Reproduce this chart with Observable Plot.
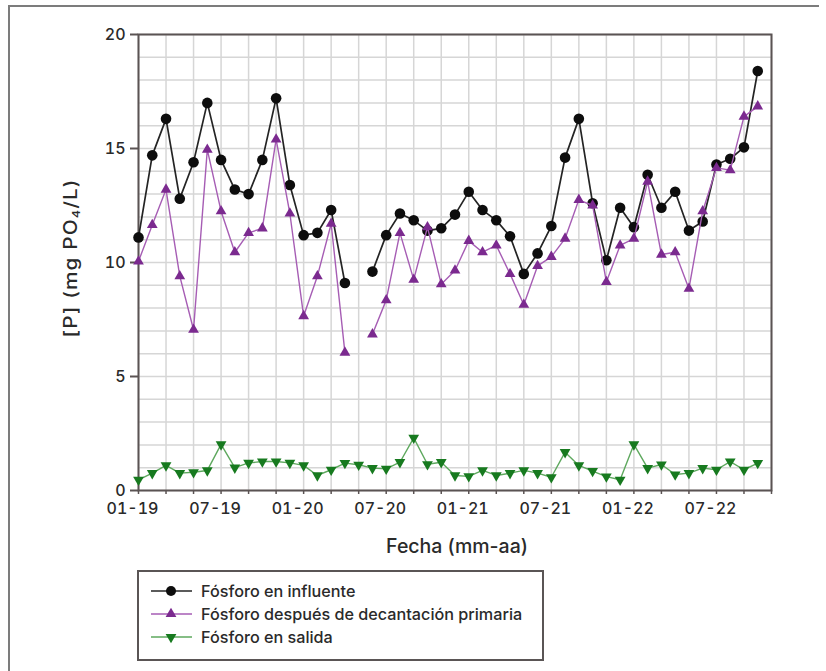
<!DOCTYPE html>
<html><head><meta charset="utf-8">
<script src="https://cdn.jsdelivr.net/npm/d3@7"></script>
<script src="https://cdn.jsdelivr.net/npm/@observablehq/plot@0.6"></script>
<style>
body{margin:0;background:#fff;font-family:Inter,"Liberation Sans",sans-serif;color:#2a2a2a;}
#wrap{position:relative;width:826px;height:671px;overflow:hidden;background:#fff;}
#outer{position:absolute;left:8px;top:5px;width:809px;height:700px;border-left:2px solid #7c7c7c;border-top:2px solid #7c7c7c;}
#chart{position:absolute;left:0;top:0;}
#ylab{position:absolute;left:71px;top:258px;transform:translate(-50%,-50%) rotate(-90deg) scaleX(1.15);white-space:nowrap;font-size:18px;font-weight:500;letter-spacing:1px;color:#2a2a2a;}
#ylab sub{font-size:11px;vertical-align:-3px;}
#xlab{position:absolute;left:457px;top:546px;transform:translate(-50%,-50%);white-space:nowrap;font-size:19.5px;font-weight:500;color:#2a2a2a;}
#legend{position:absolute;left:137px;top:570px;width:407px;height:91px;box-sizing:border-box;border:2px solid #5a5555;background:#fff;}
.row{position:absolute;left:10px;display:flex;align-items:center;font-size:16.2px;font-weight:500;color:#2a2a2a;white-space:nowrap;}
.row svg{margin-right:8px;}
</style></head>
<body>
<div id="wrap">
  <div id="outer"></div>
  <div id="chart"></div>
  <div id="ylab">[P] (mg PO<sub>4</sub>/L)</div>
  <div id="xlab">Fecha (mm-aa)</div>
  <div id="legend"></div>
</div>
<script>
const monthLabels = ["01-19","02-19","03-19","04-19","05-19","06-19","07-19","08-19","09-19","10-19","11-19","12-19",
  "01-20","02-20","03-20","04-20","05-20","06-20","07-20","08-20","09-20","10-20","11-20","12-20",
  "01-21","02-21","03-21","04-21","05-21","06-21","07-21","08-21","09-21","10-21","11-21","12-21",
  "01-22","02-22","03-22","04-22","05-22","06-22","07-22","08-22","09-22","10-22"];
const tickLabels = ["01-19","07-19","01-20","07-20","01-21","07-21","01-22","07-22"];
const yTickValues = [0,5,10,15,20];

const influente = [11.1,14.7,16.3,12.8,14.4,17.0,14.5,13.2,13.0,14.5,17.2,13.4,11.2,11.3,12.3,9.1,null,
  9.6,11.2,12.15,11.85,11.4,11.5,12.1,13.1,12.3,11.85,11.15,9.5,10.4,11.6,14.6,16.3,12.6,10.1,12.4,11.55,
  13.85,12.4,13.1,11.4,11.8,14.3,14.55,15.05,18.4];
const primaria = [10.05,11.65,13.2,9.4,7.05,14.95,12.25,10.45,11.3,11.5,15.4,12.15,7.65,9.4,11.7,6.05,null,
  6.85,8.35,11.3,9.25,11.55,9.05,9.65,10.95,10.45,10.75,9.5,8.15,9.85,10.25,11.05,12.75,12.5,9.15,10.75,11.05,
  13.55,10.35,10.45,8.85,12.25,14.15,14.05,16.4,16.85];
const salida = [0.47,0.76,1.1,0.76,0.8,0.88,2.02,1.0,1.21,1.27,1.27,1.21,1.1,0.66,0.91,1.2,1.13,0.98,0.95,1.24,
  2.31,1.15,1.24,0.66,0.62,0.88,0.66,0.76,0.88,0.76,0.58,1.68,1.1,0.85,0.61,0.47,2.02,0.98,1.14,0.70,0.76,0.98,
  0.91,1.27,0.91,1.2];
const seriesNames = ["Fósforo en influente","Fósforo después de decantación primaria","Fósforo en salida"];

const C = {
  blackLine:"#242424", blackDot:"#0d0d0d",
  purpleLine:"#a65db4", purpleDot:"#7b2a8f",
  greenLine:"#5ea85e", greenDot:"#177a1f",
  grid:"#d6d6d6", axis:"#5a5353"
};

const triangleDown = {
  draw(ctx, size) {
    const y = -Math.sqrt(size / (3 * Math.sqrt(3)));
    ctx.moveTo(0, -y * 2);
    ctx.lineTo(-Math.sqrt(3) * y, y);
    ctx.lineTo(Math.sqrt(3) * y, y);
    ctx.closePath();
  }
};

const rows = (vals) => monthLabels.map((m, i) => ({i, m, v: vals[i]}));
const dInf = rows(influente), dPri = rows(primaria), dSal = rows(salida);
const xGrid = d3.range(0, monthLabels.length + 1, 2);
const xLabelPos = tickLabels.map(l => monthLabels.indexOf(l));
const defined = d => d.v != null;

const chart = Plot.plot({
  width: 826, height: 671,
  marginLeft: 138, marginRight: 55, marginTop: 34, marginBottom: 181,
  x: {domain: [0, monthLabels.length]},
  y: {domain: [0, 20]},
  style: {fontFamily: "Inter, 'Liberation Sans', sans-serif", fontSize: "16px", fontWeight: 500, color: "#2a2a2a", background: "transparent", overflow: "visible"},
  marks: [
    Plot.gridY(d3.range(0, 21), {stroke: C.grid, strokeOpacity: 1, strokeWidth: 1.5}),
    Plot.gridX(xGrid, {stroke: C.grid, strokeOpacity: 1, strokeWidth: 1.5}),
    Plot.axisY(yTickValues, {tickSize: 8, tickPadding: 5, stroke: C.axis, strokeWidth: 2, label: null, fill: "#2a2a2a"}),
    Plot.axisX(xGrid, {tickSize: 4, tickFormat: () => "", label: null, stroke: C.axis, strokeWidth: 1.5}),
    Plot.axisX(xLabelPos, {tickSize: 0, tickPadding: 12, dx: -6, tickFormat: i => monthLabels[i], label: null, fill: "#2a2a2a"}),
    Plot.frame({stroke: C.axis, strokeWidth: 2}),
    Plot.line(dInf, {x: "i", y: "v", stroke: C.blackLine, strokeWidth: 1.7}),
    Plot.dot(dInf.filter(defined), {x: "i", y: "v", r: 5.3, fill: C.blackDot, stroke: "none"}),
    Plot.line(dPri, {x: "i", y: "v", stroke: C.purpleLine, strokeWidth: 1.4}),
    Plot.dot(dPri.filter(defined), {x: "i", y: "v", symbol: "triangle", r: 4, fill: C.purpleDot, stroke: "none"}),
    Plot.line(dSal, {x: "i", y: "v", stroke: C.greenLine, strokeWidth: 1.4}),
    Plot.dot(dSal, {x: "i", y: "v", symbol: triangleDown, r: 4, fill: C.greenDot, stroke: "none"})
  ]
});
document.getElementById("chart").appendChild(chart);

// legend
const legend = document.getElementById("legend");
const swatches = [
  {line: C.blackLine, dot: C.blackDot, sym: d3.symbolCircle, size: Math.PI * 25, rot: 0},
  {line: C.purpleLine, dot: C.purpleDot, sym: d3.symbolTriangle, size: Math.PI * 16, rot: 0},
  {line: C.greenLine, dot: C.greenDot, sym: d3.symbolTriangle, size: Math.PI * 16, rot: 180}
];
const rowTops = [19, 42, 65];
seriesNames.forEach((name, k) => {
  const s = swatches[k];
  const row = document.createElement("div");
  row.className = "row";
  row.style.top = (rowTops[k] - 10) + "px";
  const path = d3.symbol(s.sym, s.size)();
  row.innerHTML = `<svg width="44" height="20"><line x1="2" y1="10" x2="43" y2="10" stroke="${s.line}" stroke-width="1.6"/>` +
    `<path d="${path}" transform="translate(22,10) rotate(${s.rot})" fill="${s.dot}"/></svg><span>${name}</span>`;
  legend.appendChild(row);
});
</script>
</body></html>
